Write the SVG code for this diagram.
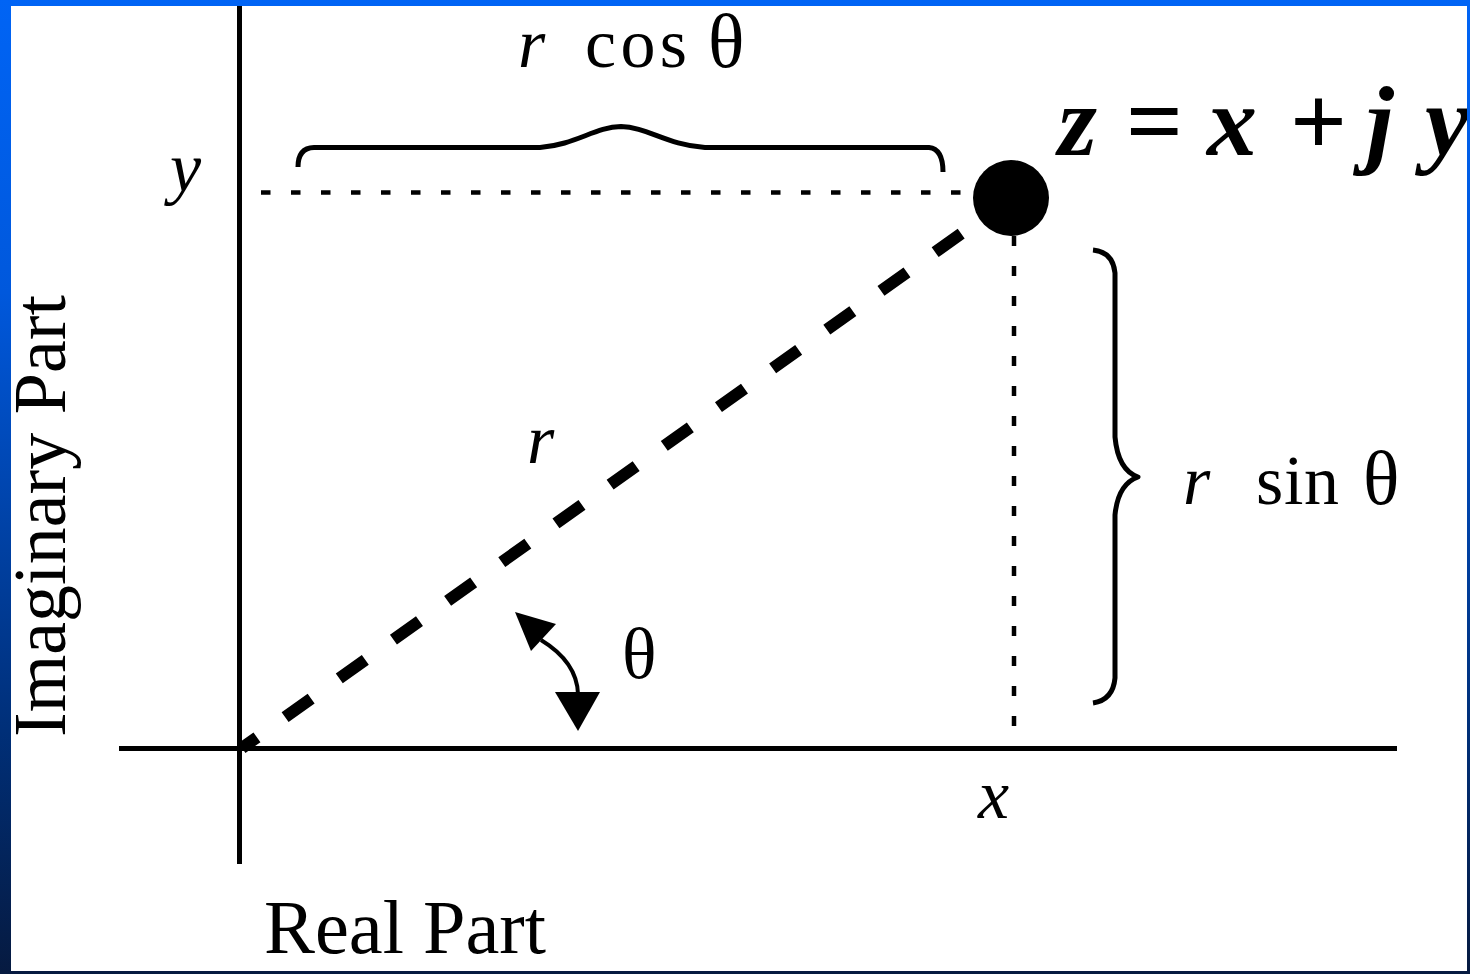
<svg xmlns="http://www.w3.org/2000/svg" width="1470" height="974" viewBox="0 0 1470 974">
<defs>
<linearGradient id="bg" x1="0" y1="0" x2="0" y2="1">
<stop offset="0" stop-color="#0064F5"/>
<stop offset="0.3" stop-color="#0058DC"/>
<stop offset="0.75" stop-color="#002F78"/>
<stop offset="1" stop-color="#061A40"/>
</linearGradient>
<style>
.ser{font-family:"Liberation Serif","Times New Roman",serif;fill:#000}
.it{font-style:italic}
.lbl{font-size:70px}
.ax{stroke:#000;stroke-width:5;fill:none}
.dot{stroke:#000;stroke-width:4.5;fill:none}
.brace{stroke:#000;stroke-width:5;fill:none;stroke-linejoin:round}
</style>
</defs>
<rect x="0" y="0" width="1470" height="974" fill="#fff"/>
<g id="axes">
<line class="ax" x1="239.5" y1="6" x2="239.5" y2="864"/>
<line class="ax" x1="119" y1="748.5" x2="1397" y2="748.5"/>
</g>
<g id="connectors">
<line class="dot" x1="261" y1="192.5" x2="962" y2="192.5" stroke-dasharray="9.5 20.5"/>
<line class="dot" x1="1014" y1="236" x2="1014" y2="726" stroke-dasharray="10 20"/>
<line x1="242" y1="748" x2="962.6" y2="232.6" stroke="#000" stroke-width="12" stroke-dasharray="32 34.6" stroke-dashoffset="13.6"/>
<path class="brace" d="M298 167 Q298 148 314 147.5 L540 147.5 C575 145 595 127 621 126.5 C647 127 667 145 705 147.5 L929 147.5 Q943 149 943 172"/>
<path class="brace" d="M1093 250 Q1113 252 1115 273 L1115 437 Q1118 470 1138 477 Q1118 484 1115 515 L1115 678 Q1113 700 1093 703"/>
<path d="M541 640 Q577 662 578 694" stroke="#000" stroke-width="4" fill="none"/>
<polygon points="515,612 556,624 531,651" fill="#000"/>
<polygon points="578,731 555,692 600,692" fill="#000"/>
</g>
<g id="point-z">
<circle cx="1011" cy="198" r="38" fill="#000"/>
<text class="ser" font-size="100" font-weight="bold" y="155"><tspan x="1058" font-style="italic">z</tspan><tspan x="1126">=</tspan><tspan x="1207" font-style="italic">x</tspan><tspan x="1290">+</tspan><tspan x="1366" font-style="italic">j</tspan><tspan x="1425" font-style="italic">y</tspan></text>
</g>
<g id="label-rcos">
<text class="ser lbl it" x="518" y="67">r</text>
<text class="ser lbl" x="585" y="67" textLength="102" lengthAdjust="spacing">cos</text>
<text class="ser" font-size="76" x="708" y="67">θ</text>
</g>
<g id="label-rsin">
<text class="ser lbl it" x="1183" y="504">r</text>
<text class="ser lbl" x="1256" y="504" textLength="83" lengthAdjust="spacing">sin</text>
<text class="ser" font-size="76" x="1363" y="504">θ</text>
</g>
<g id="label-y"><text class="ser lbl it" x="170" y="191">y</text></g>
<g id="label-x"><text class="ser lbl it" x="978" y="818">x</text></g>
<g id="label-r"><text class="ser lbl it" x="527" y="463">r</text></g>
<g id="label-theta"><text class="ser" font-size="72" x="622" y="678">θ</text></g>
<g id="label-imag"><text class="ser" font-size="74" transform="translate(65 737) rotate(-90)" x="0" y="0" textLength="442" lengthAdjust="spacingAndGlyphs">Imaginary Part</text></g>
<g id="label-real"><text class="ser" font-size="76" x="264" y="953" textLength="282" lengthAdjust="spacingAndGlyphs">Real Part</text></g>
<path id="frame" fill="url(#bg)" fill-rule="evenodd" d="M0 0 H1470 V974 H0 Z M11 6 V971 H1467 V6 Z"/>
</svg>
